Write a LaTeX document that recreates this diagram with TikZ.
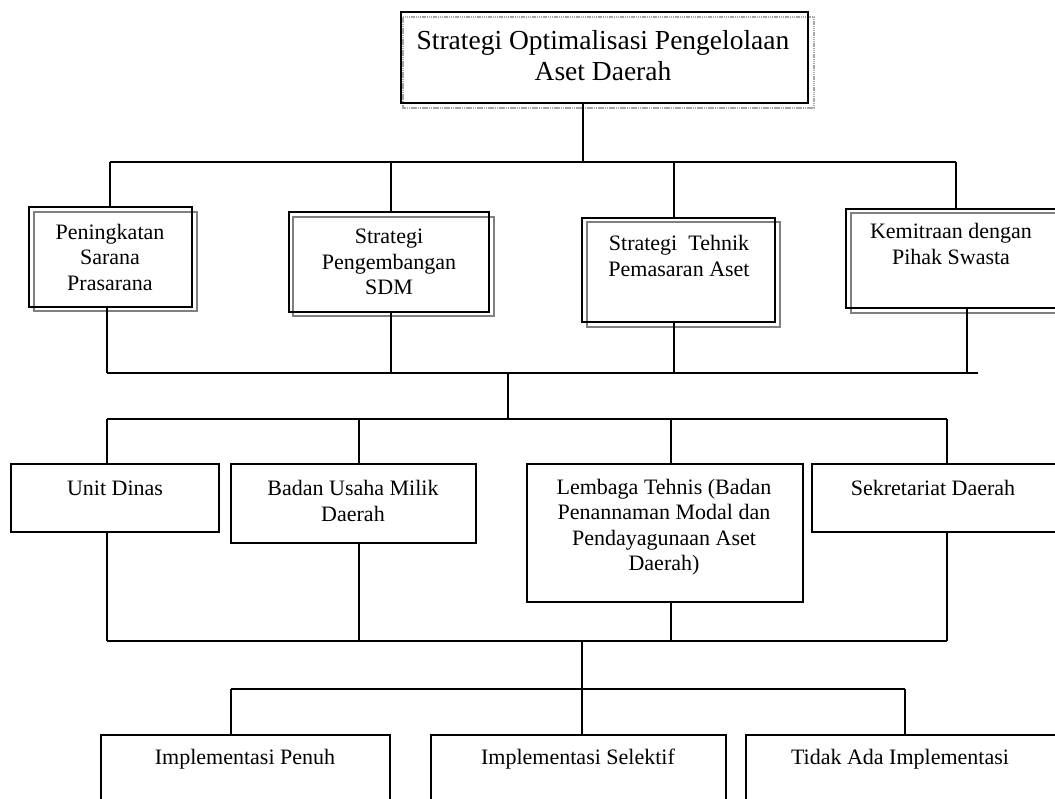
\documentclass[tikz,border=0pt]{standalone}
\usepackage{fontspec}
\setmainfont{Liberation Serif}
\begin{document}
\begin{tikzpicture}[x=1pt,y=-1pt]
\tikzset{
  conn/.style={line width=1.3pt, black},
  frame/.style={draw=black, line width=2pt, inner sep=0pt, outer sep=0pt, anchor=north west},
  plainbox/.style={draw=black, line width=1.4pt, inner sep=0pt, outer sep=0pt, anchor=north west},
  shade/.style={draw=black!50, line width=1.5pt},
  topshade/.style={draw=black!35, line width=1.5pt, dash pattern=on 1.5pt off 0.7pt},
  txt/.style={align=center, inner sep=0pt, font=\fontsize{22}{25.5}\selectfont},
  toptxt/.style={align=center, inner sep=0pt, font=\fontsize{27.5}{31}\selectfont},
}
\useasboundingbox (0,0) rectangle (1055,798);
\clip (0,0) rectangle (1055,798);

% ---------- top box ----------
\draw[topshade] (403,17) rectangle (814,108);
\node[frame, line width=2.2pt, minimum width=407pt, minimum height=91pt] (top) at (401,12) {};
\node[toptxt] (toptext) at (603,56) {Strategi Optimalisasi Pengelolaan\\Aset Daerah};

% ---------- level 2 ----------
\draw[shade] (34,212) rectangle (197,311);
\node[frame, minimum width=163pt, minimum height=100pt] (b1) at (29,207) {};
\node[txt] (t1) at (110,257) {Peningkatan\\Sarana\\Prasarana};

\draw[shade] (293,217) rectangle (494,316);
\node[frame, minimum width=200pt, minimum height=100pt] (b2) at (289,212) {};
\node[txt] (t2) at (389,262) {Strategi\\Pengembangan\\SDM};

\draw[shade] (587,222) rectangle (780,327);
\node[frame, minimum width=193pt, minimum height=104pt] (b3) at (582,218) {};
\node[txt] (t3) at (679,256) {Strategi\ \ Tehnik\\Pemasaran Aset};

\draw[shade] (851,213) rectangle (1075,313);
\node[frame, minimum width=224pt, minimum height=99pt] (b4) at (846,209) {};
\node[txt] (t4) at (951,244) {Kemitraan dengan\\Pihak Swasta};

% ---------- level 3 ----------
\node[plainbox, minimum width=208pt, minimum height=68pt] (c1) at (11,464) {};
\node[txt] (u1) at (115,488) {Unit Dinas};
\node[plainbox, minimum width=245pt, minimum height=79pt] (c2) at (231,464) {};
\node[txt] (u2) at (353,501) {Badan Usaha Milik\\Daerah};
\node[plainbox, minimum width=276pt, minimum height=138pt] (c3) at (527,464) {};
\node[txt] (u3) at (664,527) {Lembaga Tehnis (Badan\\Penannaman Modal dan\\Pendayagunaan Aset\\Daerah)};
\node[plainbox, minimum width=260pt, minimum height=68pt] (c4) at (812,464) {};
\node[txt] (u4) at (933,488) {Sekretariat Daerah};

% ---------- level 4 ----------
\node[plainbox, minimum width=289pt, minimum height=100pt] (d1) at (101,735) {};
\node[txt] (v1) at (245,759) {Implementasi Penuh};
\node[plainbox, minimum width=295pt, minimum height=100pt] (d2) at (431,735) {};
\node[txt] (v2) at (578,759) {Implementasi Selektif};
\node[plainbox, minimum width=330pt, minimum height=100pt] (d3) at (746,735) {};
\node[txt] (v3) at (900,759) {Tidak Ada Implementasi};

% ---------- connectors ----------
% top -> level 2
\coordinate (j0) at (583,162);
\coordinate (p1) at (110,162);
\coordinate (p2) at (391,162);
\coordinate (p3) at (674,162);
\coordinate (p4) at (956,162);
\draw[conn] (top.south -| j0) -- (j0);
\draw[conn] (p1) -- (p4);
\draw[conn] (p1) -- (p1 |- b1.north);
\draw[conn] (p2) -- (p2 |- b2.north);
\draw[conn] (p3) -- (p3 |- b3.north);
\draw[conn] (p4) -- (p4 |- b4.north);

% level 2 -> collector
\coordinate (q1) at (107,373);
\coordinate (q2) at (391,373);
\coordinate (q3) at (674,373);
\coordinate (q4) at (967,373);
\coordinate (qr) at (978,373);
\coordinate (qm) at (508,373);
\draw[conn] (q1) -- (qr);
\draw[conn] (q1 |- b1.south) -- (q1);
\draw[conn] (q2 |- b2.south) -- (q2);
\draw[conn] (q3 |- b3.south) -- (q3);
\draw[conn] (q4 |- b4.south) -- (q4);

% collector -> level 3
\coordinate (r0) at (508,419);
\coordinate (r1) at (107,419);
\coordinate (r2) at (359,419);
\coordinate (r3) at (671,419);
\coordinate (r4) at (947,419);
\draw[conn] (qm) -- (r0);
\draw[conn] (r1) -- (r4);
\draw[conn] (r1) -- (r1 |- c1.north);
\draw[conn] (r2) -- (r2 |- c2.north);
\draw[conn] (r3) -- (r3 |- c3.north);
\draw[conn] (r4) -- (r4 |- c4.north);

% level 3 -> collector
\coordinate (s1) at (107,641);
\coordinate (s2) at (359,641);
\coordinate (s3) at (671,641);
\coordinate (s4) at (947,641);
\coordinate (sm) at (582,641);
\draw[conn] (s1) -- (s4);
\draw[conn] (s1 |- c1.south) -- (s1);
\draw[conn] (s2 |- c2.south) -- (s2);
\draw[conn] (s3 |- c3.south) -- (s3);
\draw[conn] (s4 |- c4.south) -- (s4);

% collector -> level 4
\coordinate (w1) at (231,689);
\coordinate (w3) at (905,689);
\draw[conn] (sm) -- (sm |- d2.north);
\draw[conn] (w1) -- (w3);
\draw[conn] (w1) -- (w1 |- d1.north);
\draw[conn] (w3) -- (w3 |- d3.north);
\end{tikzpicture}
\end{document}
